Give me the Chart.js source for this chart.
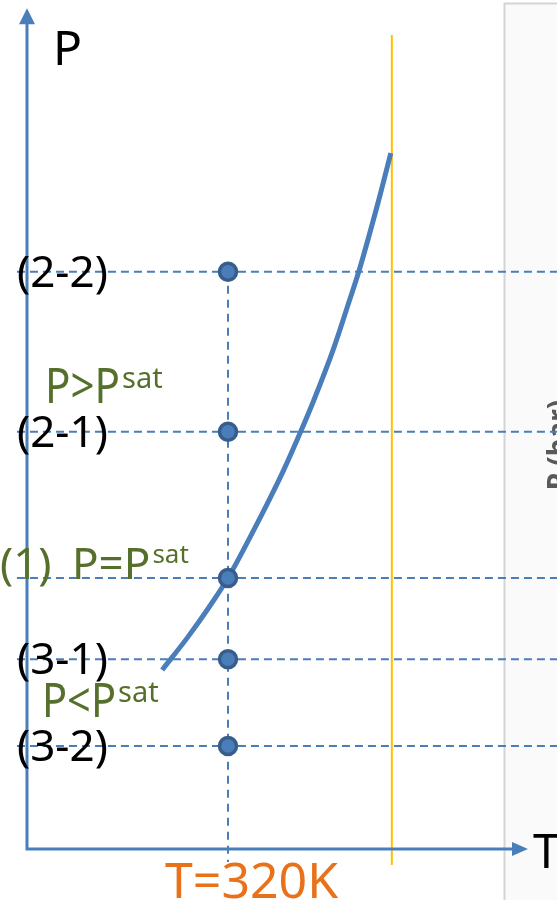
<!DOCTYPE html>
<html>
<head>
<meta charset="utf-8">
<script src="https://cdn.jsdelivr.net/npm/chart.js@4.4.1/dist/chart.umd.min.js"></script>
<style>
  html, body { margin: 0; padding: 0; background: #fff; }
  #wrap { width: 557px; height: 900px; }
</style>
</head>
<body>
<div id="wrap"><canvas id="pt" width="557" height="900"></canvas></div>
<script>
// saturation curve, T in K, P in bar
const curveT = [306.9, 312.0, 316.8, 320.0, 324.4, 327.9, 331.1, 334.6, 337.1, 340.9, 344.2, 346.0, 350.0, 352.4];
const curveP = [0.661, 0.782, 0.908, 1.000, 1.151, 1.277, 1.399, 1.546, 1.657, 1.841, 2.026, 2.129, 2.395, 2.568];

// states sampled along the isotherm
const stateT = 320;
const stateNames = ['(2-2)', '(2-1)', '(1)', '(3-1)', '(3-2)'];
const stateP = [2.13, 1.54, 1.00, 0.70, 0.38];

const criticalT = 352.6;
const originT = 280;
const originP = 0;
const tRange = [274.63, 385.47];
const pRange = [-0.188, 3.133];

const BLUE = '#4a7ebb';
const GREEN = '#56702c';
const ORANGE = '#e8711a';

const guideSets = stateP.map(p => ({
  data: [{ x: 278.0, y: p }, { x: tRange[1], y: p }],
  showLine: true,
  borderColor: BLUE,
  borderWidth: 2,
  borderDash: [8, 5],
  pointRadius: 0,
  order: 5
}));

const datasets = [
  {
    data: stateP.map(p => ({ x: stateT, y: p })),
    showLine: false,
    pointRadius: 8.5,
    pointBorderWidth: 3.5,
    pointBackgroundColor: BLUE,
    pointBorderColor: '#385d8a',
    order: 0
  },
  {
    data: curveT.map((t, i) => ({ x: t, y: curveP[i] })),
    showLine: true,
    borderColor: BLUE,
    borderWidth: 5,
    pointRadius: 0,
    cubicInterpolationMode: 'monotone',
    order: 1
  },
  {
    data: [{ x: criticalT, y: 3.004 }, { x: criticalT, y: -0.059 }],
    showLine: true,
    borderColor: '#ffc000',
    borderWidth: 2,
    pointRadius: 0,
    order: 2
  },
  {
    data: [{ x: stateT, y: stateP[0] }, { x: stateT, y: -0.048 }],
    showLine: true,
    borderColor: BLUE,
    borderWidth: 2,
    borderDash: [8, 6],
    pointRadius: 0,
    order: 4
  },
  ...guideSets
];

// side panel behind everything
const panel = {
  id: 'panel',
  beforeDraw(chart) {
    const ctx = chart.ctx;
    ctx.save();
    ctx.fillStyle = '#fafafa';
    ctx.fillRect(505, 4, 60, 900);
    ctx.strokeStyle = '#d4d4d4';
    ctx.lineWidth = 2;
    ctx.beginPath();
    ctx.moveTo(504.5, 900);
    ctx.lineTo(504.5, 3.5);
    ctx.lineTo(560, 3.5);
    ctx.stroke();
    // axis title of the next plot, mostly off the edge
    ctx.translate(568, 445);
    ctx.rotate(-Math.PI / 2);
    ctx.fillStyle = '#595959';
    ctx.font = 'bold 28px "Noto Sans"';
    ctx.textAlign = 'center';
    ctx.textBaseline = 'alphabetic';
    ctx.fillText('P (bar)', 0, 0);
    ctx.restore();
  }
};

function supText(ctx, main, sup, x, y, size, supSize, width, rise, color) {
  ctx.fillStyle = color;
  ctx.font = size + 'px "Noto Sans"';
  const w = Math.min(ctx.measureText(main).width, width);
  ctx.fillText(main, x, y, width);
  ctx.font = supSize + 'px "Noto Sans"';
  ctx.fillText(sup, x + w + 2, y - rise);
}

// axes with arrows and all text
const overlay = {
  id: 'overlay',
  afterDatasetsDraw(chart) {
    const ctx = chart.ctx;
    const xs = chart.scales.x, ys = chart.scales.y;
    const ox = xs.getPixelForValue(originT);
    const oy = ys.getPixelForValue(originP);
    const topY = ys.getPixelForValue(3.103);
    const endX = xs.getPixelForValue(379.7);
    ctx.save();
    ctx.strokeStyle = BLUE;
    ctx.fillStyle = BLUE;
    ctx.lineWidth = 3;
    ctx.beginPath();
    ctx.moveTo(ox, oy);
    ctx.lineTo(ox, topY + 14);
    ctx.moveTo(ox - 1.5, oy);
    ctx.lineTo(endX - 14, oy);
    ctx.stroke();
    ctx.beginPath();
    ctx.moveTo(ox, topY);
    ctx.lineTo(ox - 8, topY + 16);
    ctx.lineTo(ox + 8, topY + 16);
    ctx.closePath();
    ctx.fill();
    ctx.beginPath();
    ctx.moveTo(endX, oy);
    ctx.lineTo(endX - 16, oy - 7);
    ctx.lineTo(endX - 16, oy + 7);
    ctx.closePath();
    ctx.fill();

    ctx.textBaseline = 'alphabetic';
    ctx.textAlign = 'left';
    ctx.fillStyle = '#000';
    ctx.font = '48px "Noto Sans"';
    ctx.fillText('P', 53, 65);
    ctx.fillText('T', 533, 868);

    ctx.font = '44px "Noto Sans"';
    stateNames.forEach((name, i) => {
      if (name === '(1)') return;
      const y = ys.getPixelForValue(stateP[i]);
      ctx.fillText(name, 17, y + 15, 93);
    });

    const y1 = ys.getPixelForValue(1.0);
    ctx.fillStyle = GREEN;
    ctx.font = '44px "Noto Sans"';
    ctx.fillText('(1)', 0, y1 + 1);
    supText(ctx, 'P=P', 'sat', 72, y1 + 1, 44, 26, 95, 16, GREEN);
    supText(ctx, 'P>P', 'sat', 45, 403, 50, 29, 75, 15, GREEN);
    supText(ctx, 'P<P', 'sat', 42, 717, 48, 29, 74, 15, GREEN);

    ctx.fillStyle = ORANGE;
    ctx.font = '50px "Noto Sans"';
    ctx.fillText('T=320K', 165, 898);
    ctx.restore();
  }
};

new Chart(document.getElementById('pt'), {
  type: 'scatter',
  data: { datasets },
  options: {
    responsive: false,
    animation: false,
    devicePixelRatio: 1,
    layout: { padding: 0, autoPadding: false },
    plugins: { legend: { display: false }, tooltip: { enabled: false } },
    scales: {
      x: { type: 'linear', min: tRange[0], max: tRange[1], display: false },
      y: { type: 'linear', min: pRange[0], max: pRange[1], display: false }
    }
  },
  plugins: [panel, overlay]
});
</script>
</body>
</html>
